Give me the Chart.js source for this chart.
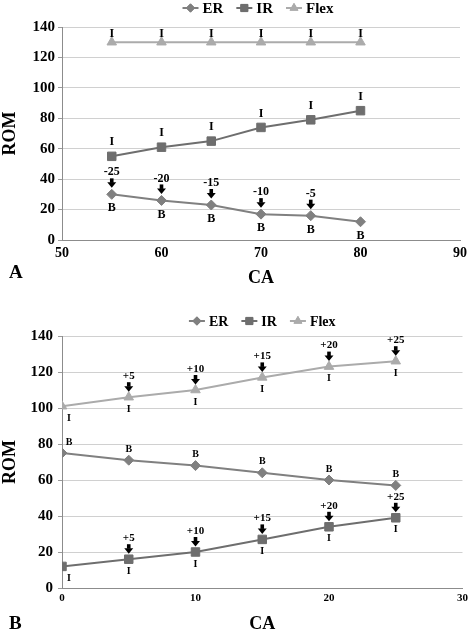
<!DOCTYPE html>
<html><head><meta charset="utf-8">
<script src="https://cdn.jsdelivr.net/npm/chart.js@4.4.1/dist/chart.umd.min.js"></script>
<style>
html,body{margin:0;padding:0;background:#fff;}
#wrap{position:relative;width:472px;height:635px;overflow:hidden;}
canvas{position:absolute;left:0;}
#c1{top:0;} #c2{top:300px;}
.panel{position:absolute;left:9px;font:bold 19px "Liberation Serif",serif;line-height:20px;}
</style></head><body>
<div id="wrap">
<canvas id="c1" width="472" height="300"></canvas>
<canvas id="c2" width="472" height="335"></canvas>
<div class="panel" style="top:262px">A</div>
<div class="panel" style="top:613px">B</div>
</div>
<script>
// ---------- data ----------
const seriesNames = ['ER', 'IR', 'Flex'];
// Panel A
const caA   = [55, 60, 65, 70, 75, 80];
const erA   = [30, 26, 23, 17, 16, 12];
const irA   = [55, 61, 65, 74, 79, 85];
const flexA = [130, 130, 130, 130, 130, 130];
const erShiftA = ['-25', '-20', '-15', '-10', '-5', ''];
const xTicksA = [50, 60, 70, 80, 90];
// Panel B
const caB   = [0, 5, 10, 15, 20, 25];
const erB   = [75, 71, 68, 64, 60, 57];
const irB   = [12, 16, 20, 27, 34, 39];
const flexB = [101, 106, 110, 117, 123, 126];
const shiftB = ['', '+5', '+10', '+15', '+20', '+25'];
const xTicksB = [0, 10, 20, 30];
const yTicks = [0, 20, 40, 60, 80, 100, 120, 140];
const markI = 'I', markB = 'B';

// ---------- styles ----------
const SERIF = '"Liberation Serif","Times New Roman",serif';
const colER = '#808080', colIR = '#6e6e6e', colFlex = '#ababab';

function pts(xs, ys){ return xs.map((x,i)=>({x:x, y:ys[i]})); }

function drawArrow(ctx, cx, cy){
  ctx.save();
  ctx.fillStyle = '#000';
  ctx.fillRect(cx-1.8, cy-5, 3.6, 4.5);
  ctx.beginPath();
  ctx.moveTo(cx-4.5, cy-1);
  ctx.lineTo(cx+4.5, cy-1);
  ctx.lineTo(cx, cy+4.5);
  ctx.closePath();
  ctx.fill();
  ctx.restore();
}

const annot = {
  id: 'annot',
  afterDatasetsDraw(chart, args, opts){
    const ctx = chart.ctx, a = chart.chartArea;
    ctx.save();
    ctx.fillStyle = '#000';
    ctx.textAlign = 'center';
    ctx.textBaseline = 'middle';
    (opts.sets || []).forEach((cfg, i) => {
      if (!cfg) return;
      const meta = chart.getDatasetMeta(i);
      meta.data.forEach((pt, j) => {
        const x = pt.x, y = pt.y;
        const lx = Math.max(x, a.left + 7);
        ctx.font = 'bold ' + opts.markSize + 'px ' + SERIF;
        if (cfg.above) ctx.fillText(cfg.above, lx, y - cfg.aboveOff);
        if (cfg.below) ctx.fillText(cfg.below, lx, y + cfg.belowOff);
        if (cfg.shift && cfg.shift[j]) {
          drawArrow(ctx, x, y - opts.arrowOff);
          ctx.font = 'bold ' + opts.shiftSize + 'px ' + SERIF;
          ctx.fillText(cfg.shift[j], x, y - opts.shiftOff);
        }
      });
    });
    ctx.restore();
  }
};

const legendPlug = {
  id: 'legendPlug',
  afterDraw(chart, args, opts){
    const ctx = chart.ctx, a = chart.chartArea;
    ctx.save();
    ctx.font = 'bold ' + opts.size + 'px ' + SERIF;
    ctx.textBaseline = 'middle';
    const lineLen = 16, gapT = 4, gapI = 13;
    const items = chart.data.datasets.map(ds => ({ds, w: ctx.measureText(ds.label).width}));
    let total = 0;
    items.forEach((it, i) => { total += lineLen + gapT + it.w + (i < items.length-1 ? gapI : 0); });
    let x = (a.left + a.right)/2 - total/2 + opts.dx;
    const y = opts.y;
    items.forEach(it => {
      const ds = it.ds;
      ctx.strokeStyle = ds.borderColor; ctx.lineWidth = 2;
      ctx.beginPath(); ctx.moveTo(x, y); ctx.lineTo(x+lineLen, y); ctx.stroke();
      ctx.fillStyle = ds.backgroundColor; ctx.strokeStyle = ds.borderColor; ctx.lineWidth = 1;
      Chart.helpers.drawPoint(ctx, {pointStyle: ds.pointStyle, radius: ds.pointRadius*0.85, borderWidth: 1, rotation: 0}, x+lineLen/2, y);
      ctx.fill();
      x += lineLen + gapT;
      ctx.fillStyle = '#000'; ctx.textAlign = 'left';
      ctx.fillText(ds.label, x, y+1);
      x += it.w + gapI;
    });
    ctx.restore();
  }
};

function makeDatasets(xs, er, ir, fl){
  return [
    {label: seriesNames[0], data: pts(xs, er), borderColor: colER, backgroundColor: colER, pointStyle: 'rectRot', pointRadius: 5, borderWidth: 2, pointBorderWidth: 1},
    {label: seriesNames[1], data: pts(xs, ir), borderColor: colIR, backgroundColor: colIR, pointStyle: 'rect', pointRadius: 6, borderWidth: 2, pointBorderWidth: 1},
    {label: seriesNames[2], data: pts(xs, fl), borderColor: colFlex, backgroundColor: colFlex, pointStyle: 'triangle', pointRadius: 5.5, borderWidth: 2, pointBorderWidth: 1}
  ];
}

function makeOptions(p){
  return {
    responsive: false, animation: false, events: [],
    layout: {padding: {top: p.padTop, right: p.padRight, left: 0, bottom: 0}},
    plugins: {
      legend: {display: false}, tooltip: {enabled: false},
      annot: p.annot,
      legendPlug: p.legend
    },
    scales: {
      x: {
        type: 'linear', min: p.xTicks[0], max: p.xTicks[p.xTicks.length-1],
        afterBuildTicks: s => { s.ticks = p.xTicks.map(v => ({value: v})); },
        afterFit: s => { s.height = p.xHeight; },
        grid: {display: false, drawTicks: false},
        border: {display: true, color: '#8c8c8c', width: 1},
        ticks: {color: '#000', padding: p.xTickPad, maxRotation: 0, font: {family: SERIF, size: p.xTickSize, weight: 'bold'}},
        title: {display: true, text: 'CA', color: '#000', padding: {top: 0, bottom: p.xTitlePad}, font: {family: SERIF, size: 18, weight: 'bold'}}
      },
      y: {
        type: 'linear', min: 0, max: 140,
        afterBuildTicks: s => { s.ticks = yTicks.map(v => ({value: v})); },
        afterFit: s => { s.width = 62; },
        grid: {color: '#d0d0d0', tickColor: '#9a9a9a', tickLength: 4, lineWidth: 1},
        border: {display: true, color: '#8c8c8c', width: 1},
        ticks: {color: '#000', padding: p.yTickPad, font: {family: SERIF, size: 15, weight: 'bold'}},
        title: {display: true, text: 'ROM', color: '#000', padding: {top: 0, bottom: 0}, font: {family: SERIF, size: 18, weight: 'bold'}}
      }
    }
  };
}

new Chart(document.getElementById('c1'), {
  type: 'line',
  data: {datasets: makeDatasets(caA, erA, irA, flexA)},
  options: makeOptions({
    padTop: 27, padRight: 12, xTicks: xTicksA, xHeight: 60, xTickPad: 5, xTickSize: 14, xTitlePad: 11, yTickPad: 3,
    legend: {y: 8, size: 15, dx: -3},
    annot: {markSize: 12, shiftSize: 12, arrowOff: 11, shiftOff: 22,
      sets: [{below: markB, belowOff: 14, shift: erShiftA}, {above: markI, aboveOff: 14}, {above: markI, aboveOff: 8}]}
  }),
  plugins: [annot, legendPlug]
});

new Chart(document.getElementById('c2'), {
  type: 'line',
  data: {datasets: makeDatasets(caB, erB, irB, flexB)},
  options: makeOptions({
    padTop: 36, padRight: 9, xTicks: xTicksB, xHeight: 47, xTickPad: 4, xTickSize: 11, xTitlePad: 0, yTickPad: 5,
    legend: {y: 21, size: 14, dx: 0},
    annot: {markSize: 10, shiftSize: 11, arrowOff: 10, shiftOff: 21,
      sets: [{above: markB, aboveOff: 11}, {below: markI, belowOff: 12, shift: shiftB}, {below: markI, belowOff: 12, shift: shiftB}]}
  }),
  plugins: [annot, legendPlug]
});
</script>
</body></html>
